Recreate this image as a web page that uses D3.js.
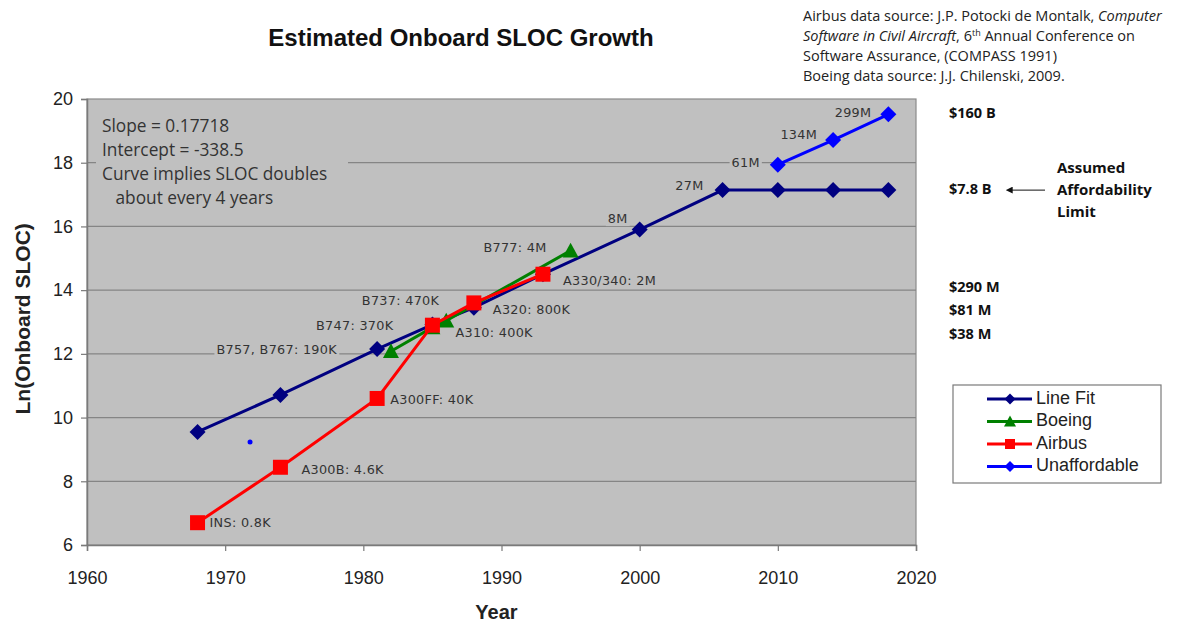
<!DOCTYPE html>
<html>
<head>
<meta charset="utf-8">
<script src="https://cdn.jsdelivr.net/npm/d3@7"></script>
<style>
  body { margin: 0; background: #fff; }
  svg { display: block; }
</style>
</head>
<body>
<div id="chart"></div>
<script>
// Data (Ln of onboard SLOC by year)
const xTicks = [1960, 1970, 1980, 1990, 2000, 2010, 2020];
const yTicks = [6, 8, 10, 12, 14, 16, 18, 20];

const lineFitYears = [1968, 1974, 1981, 1985, 1988, 1993, 2000, 2006, 2010, 2014, 2018];
const lineFitValues = [9.55, 10.71, 12.15, 12.92, 13.45, 14.5, 15.9, 17.14, 17.14, 17.14, 17.14];
const lineFitLabels = ['', '', '', '', '', '', '8M', '27M', '', '', ''];

const boeingYears = [1982, 1985, 1986, 1995];
const boeingValues = [12.08, 12.83, 13.04, 15.24];
const boeingLabels = ['B757, B767: 190K', 'B747: 370K', 'B737: 470K', 'B777: 4M'];

const airbusYears = [1968, 1974, 1981, 1985, 1988, 1993];
const airbusValues = [6.7, 8.44, 10.6, 12.9, 13.6, 14.5];
const airbusLabels = ['INS: 0.8K', 'A300B: 4.6K', 'A300FF: 40K', 'A310: 400K', 'A320: 800K', 'A330/340: 2M'];

const unaffordableYears = [2010, 2014, 2018];
const unaffordableValues = [17.94, 18.71, 19.52];
const unaffordableLabels = ['61M', '134M', '299M'];

const strayYears = [1971.8];
const strayValues = [9.23];

const costLabels = ['$160 B', '$7.8 B', '$290 M', '$81 M', '$38 M'];
const costLevels = [19.52, 17.14, 14.05, 13.33, 12.58];

const fitNotes = ['Slope = 0.17718', 'Intercept = -338.5', 'Curve implies SLOC doubles', '   about every 4 years'];

// label placement relative to the marker: [dx, dy, anchor]
const lineFitLabelPos = [null, null, null, null, null, null, [-12, -10, 'end'], [-19, -4, 'end'], null, null, null];
const boeingLabelPos = [[-54, -1, 'end'], [-39, -1, 'end'], [-7, -19, 'end'], [-24, -2, 'end']];
const airbusLabelPos = [[12, 1, 'start'], [21, 3, 'start'], [13, 2, 'start'], [23, 8, 'start'], [19, 8, 'start'], [20, 7, 'start']];
const unaffordableLabelPos = [[-18, -1, 'end'], [-16, -5, 'end'], [-17, -1, 'end']];

const W = 1179, H = 624;
const margin = { top: 99, right: 263, bottom: 79, left: 87 };
const width = W - margin.left - margin.right;
const height = H - margin.top - margin.bottom;
const plotBg = '#c0c0c0';

const svg = d3.select('#chart').append('svg')
    .attr('width', W)
    .attr('height', H);

const g = svg.append('g').attr('transform', `translate(${margin.left},${margin.top})`);

const x = d3.scaleLinear().domain([1960, 2020]).range([0, width]);
const y = d3.scaleLinear().domain([6, 20]).range([height, 0]);

// plot background
g.append('rect')
    .attr('width', width)
    .attr('height', height)
    .attr('fill', plotBg)
    .attr('stroke', '#8a8a8a')
    .attr('stroke-width', 1.2);

// gridlines
g.append('g')
    .selectAll('line')
    .data(yTicks.filter(d => d > 6 && d < 20))
    .enter()
    .append('line')
    .attr('x1', 0)
    .attr('x2', width)
    .attr('y1', d => y(d))
    .attr('y2', d => y(d))
    .attr('stroke', '#858585')
    .attr('stroke-width', 1.2);

// axes
const yAxis = g.append('g')
    .call(d3.axisLeft(y).tickValues(yTicks).tickSize(6).tickPadding(8).tickFormat(d3.format('d')));
const xAxis = g.append('g')
    .attr('transform', `translate(0,${height})`)
    .call(d3.axisBottom(x).tickValues(xTicks).tickSize(6).tickPadding(20).tickFormat(d3.format('d')));

[yAxis, xAxis].forEach(ax => {
    ax.select('.domain').attr('stroke', '#7a7a7a').attr('stroke-width', 1.5);
    ax.selectAll('.tick line').attr('stroke', '#7a7a7a').attr('stroke-width', 1.2);
    ax.selectAll('text')
        .style('font-family', '"Liberation Sans", Arial, sans-serif')
        .style('font-size', '18px')
        .style('fill', '#222');
});

// fit notes box
const notes = g.append('g').attr('transform', 'translate(15,28)');
notes.append('rect')
    .attr('x', -6)
    .attr('y', -18)
    .attr('width', 252)
    .attr('height', 96)
    .attr('fill', plotBg);
notes.selectAll('text')
    .data(fitNotes)
    .enter()
    .append('text')
    .attr('x', 0)
    .attr('y', (d, i) => i * 24)
    .attr('dominant-baseline', 'middle')
    .attr('xml:space', 'preserve')
    .style('font-family', '"Open Sans", sans-serif')
    .style('font-size', '17.3px')
    .style('fill', '#333')
    .text(d => d);

// point labels (drawn before series so backgrounds only mask gridlines)
const labelLayer = g.append('g');
const addLabels = (years, values, labels, pos) => {
    labels.forEach((txt, i) => {
        if (!txt || !pos[i]) return;
        const [dx, dy, anchor] = pos[i];
        const t = labelLayer.append('text')
            .attr('x', x(years[i]) + dx)
            .attr('y', y(values[i]) + dy)
            .attr('text-anchor', anchor)
            .attr('dominant-baseline', 'middle')
            .style('font-family', '"DejaVu Sans", Verdana, sans-serif')
            .style('font-size', '12.8px')
            .style('letter-spacing', '0.3px')
            .style('fill', '#333')
            .text(txt);
        const bb = t.node().getBBox();
        labelLayer.insert('rect', () => t.node())
            .attr('x', bb.x - 2)
            .attr('y', bb.y)
            .attr('width', bb.width + 4)
            .attr('height', bb.height)
            .attr('fill', plotBg);
    });
};
addLabels(lineFitYears, lineFitValues, lineFitLabels, lineFitLabelPos);
addLabels(boeingYears, boeingValues, boeingLabels, boeingLabelPos);
addLabels(airbusYears, airbusValues, airbusLabels, airbusLabelPos);
addLabels(unaffordableYears, unaffordableValues, unaffordableLabels, unaffordableLabelPos);

// marker shapes
const diamond = r => `M0,${-r}L${r},0L0,${r}L${-r},0Z`;
const square = r => `M${-r},${-r}H${r}V${r}H${-r}Z`;
const triangle = r => `M0,${-r}L${r},${r * 0.85}H${-r}Z`;

const series = [
    { name: 'Line Fit', years: lineFitYears, values: lineFitValues, color: '#000080', shape: diamond, r: 8, lr: 5.5 },
    { name: 'Boeing', years: boeingYears, values: boeingValues, color: '#008000', shape: triangle, r: 8, lr: 6 },
    { name: 'Airbus', years: airbusYears, values: airbusValues, color: '#ff0000', shape: square, r: 7.5, lr: 5 },
    { name: 'Unaffordable', years: unaffordableYears, values: unaffordableValues, color: '#0000ff', shape: diamond, r: 8, lr: 5.5 }
];

const line = d3.line().x(d => x(d[0])).y(d => y(d[1]));

series.forEach(s => {
    const pts = s.years.map((yr, i) => [yr, s.values[i]]);
    const sg = g.append('g');
    sg.append('path')
        .datum(pts)
        .attr('d', line)
        .attr('fill', 'none')
        .attr('stroke', s.color)
        .attr('stroke-width', 3);
    sg.selectAll('path.marker')
        .data(pts)
        .enter()
        .append('path')
        .attr('class', 'marker')
        .attr('transform', d => `translate(${x(d[0])},${y(d[1])})`)
        .attr('d', s.shape(s.r))
        .attr('fill', s.color);
});

// stray blue point
g.selectAll('.stray')
    .data(strayYears)
    .enter()
    .append('circle')
    .attr('class', 'stray')
    .attr('cx', d => x(d))
    .attr('cy', (d, i) => y(strayValues[i]))
    .attr('r', 2.5)
    .attr('fill', '#0000ff');

// title
svg.append('text')
    .attr('x', 461)
    .attr('y', 46)
    .attr('text-anchor', 'middle')
    .style('font-family', '"Liberation Sans", Arial, sans-serif')
    .style('font-weight', 'bold')
    .style('font-size', '24px')
    .style('fill', '#111')
    .text('Estimated Onboard SLOC Growth');

// axis titles
svg.append('text')
    .attr('x', margin.left + x(1990) - 5)
    .attr('y', 619)
    .attr('text-anchor', 'middle')
    .style('font-family', '"Liberation Sans", Arial, sans-serif')
    .style('font-weight', 'bold')
    .style('font-size', '20px')
    .style('fill', '#222')
    .text('Year');

svg.append('text')
    .attr('transform', `translate(30,${margin.top + y(13.1)}) rotate(-90)`)
    .attr('text-anchor', 'middle')
    .style('font-family', '"Liberation Sans", Arial, sans-serif')
    .style('font-weight', 'bold')
    .style('font-size', '21px')
    .style('fill', '#222')
    .text('Ln(Onboard SLOC)');

// data sources
const src = svg.append('text')
    .style('font-family', '"Open Sans", sans-serif')
    .style('font-size', '14.5px')
    .style('fill', '#222');
src.append('tspan').attr('x', 803).attr('y', 21).text('Airbus data source: J.P. Potocki de Montalk, ');
src.append('tspan').style('font-style', 'italic').text('Computer');
src.append('tspan').attr('x', 803).attr('y', 41).style('font-style', 'italic').text('Software in Civil Aircraft');
src.append('tspan').text(', 6');
src.append('tspan').attr('dy', -5).style('font-size', '9px').text('th');
src.append('tspan').attr('dy', 5).text(' Annual Conference on');
src.append('tspan').attr('x', 803).attr('y', 61).text('Software Assurance, (COMPASS 1991)');
src.append('tspan').attr('x', 803).attr('y', 81).text('Boeing data source: J.J. Chilenski, 2009.');

// cost labels at the right
svg.append('g')
    .selectAll('text')
    .data(costLabels)
    .enter()
    .append('text')
    .attr('x', 949)
    .attr('y', (d, i) => margin.top + y(costLevels[i]))
    .attr('dominant-baseline', 'middle')
    .style('font-family', '"Open Sans", sans-serif')
    .style('font-weight', 'bold')
    .style('font-size', '14.5px')
    .style('fill', '#111')
    .text(d => d);

// affordability arrow + note
const arrowY = margin.top + y(17.14);
svg.append('defs').append('marker')
    .attr('id', 'arrowhead')
    .attr('viewBox', '0 0 10 10')
    .attr('refX', 1)
    .attr('refY', 5)
    .attr('markerWidth', 7)
    .attr('markerHeight', 7)
    .attr('orient', 'auto-start-reverse')
    .append('path')
    .attr('d', 'M0,0L10,5L0,10Z')
    .attr('fill', '#111');
svg.append('line')
    .attr('x1', 1045)
    .attr('x2', 1012)
    .attr('y1', arrowY)
    .attr('y2', arrowY)
    .attr('stroke', '#111')
    .attr('stroke-width', 1)
    .attr('marker-end', 'url(#arrowhead)');
svg.append('g')
    .selectAll('text')
    .data(['Assumed', 'Affordability', 'Limit'])
    .enter()
    .append('text')
    .attr('x', 1057)
    .attr('y', (d, i) => arrowY - 21 + i * 22)
    .attr('dominant-baseline', 'middle')
    .style('font-family', '"Open Sans", sans-serif')
    .style('font-weight', 'bold')
    .style('font-size', '15px')
    .style('fill', '#111')
    .text(d => d);

// legend
const legend = svg.append('g').attr('transform', 'translate(953,385)');
legend.append('rect')
    .attr('width', 208)
    .attr('height', 98)
    .attr('fill', '#fff')
    .attr('stroke', '#7a7a7a')
    .attr('stroke-width', 1.2);
const rows = legend.selectAll('.row')
    .data(series)
    .enter()
    .append('g')
    .attr('class', 'row')
    .attr('transform', (d, i) => `translate(0,${14 + i * 22.5})`);
rows.append('line')
    .attr('x1', 34)
    .attr('x2', 79)
    .attr('stroke', d => d.color)
    .attr('stroke-width', 3);
rows.append('path')
    .attr('transform', 'translate(57,0)')
    .attr('d', d => d.shape(d.lr))
    .attr('fill', d => d.color);
rows.append('text')
    .attr('x', 83)
    .attr('dominant-baseline', 'middle')
    .style('font-family', '"Liberation Sans", Arial, sans-serif')
    .style('font-size', '18px')
    .style('fill', '#222')
    .text(d => d.name);
</script>
</body>
</html>
